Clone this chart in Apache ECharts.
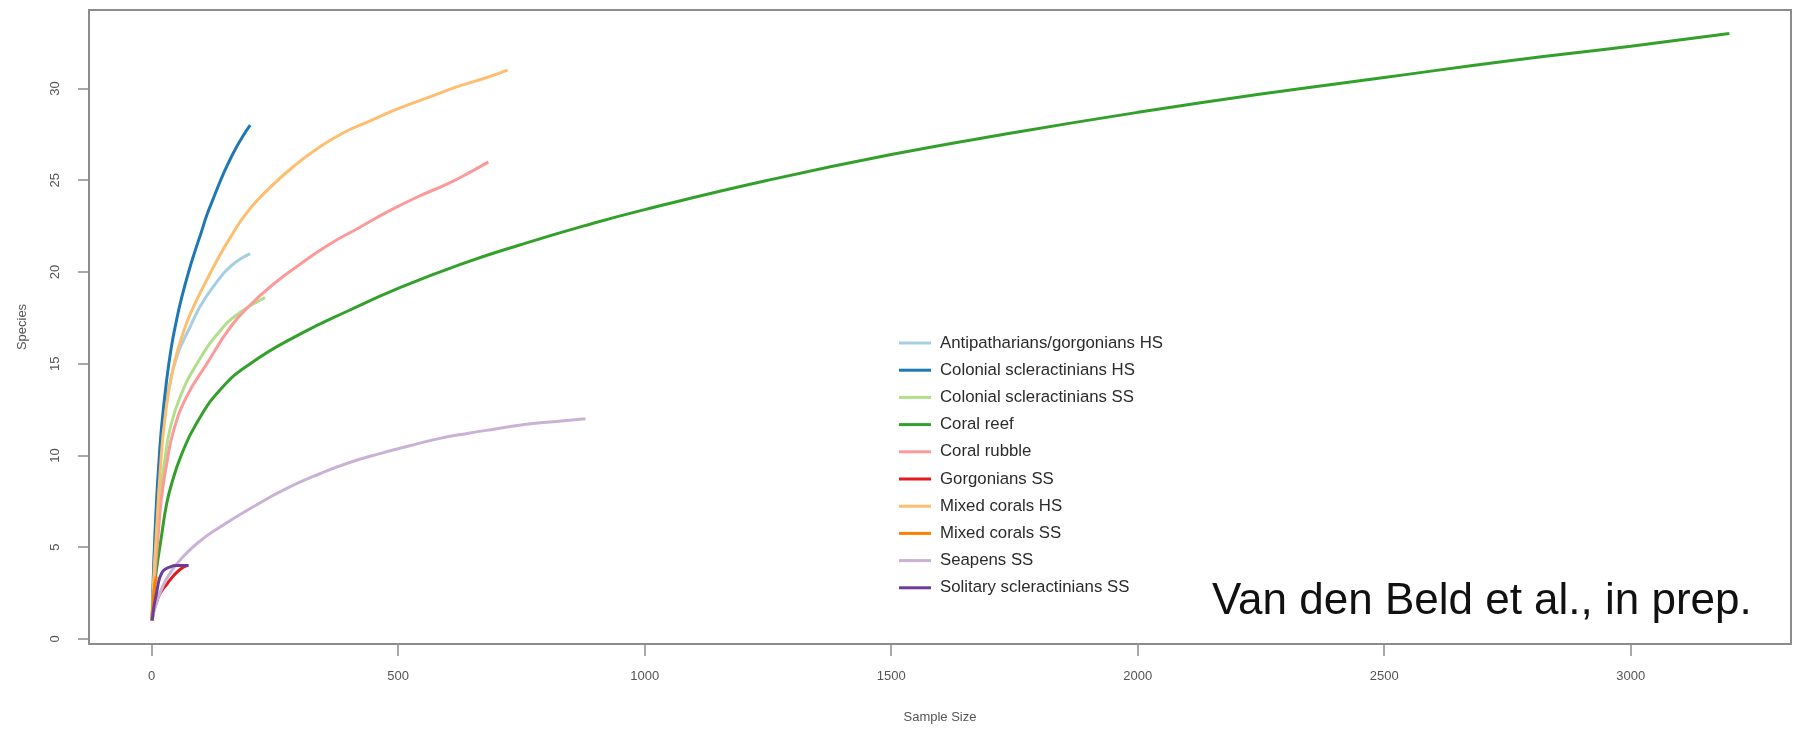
<!DOCTYPE html>
<html>
<head>
<meta charset="utf-8">
<title>Species accumulation curves</title>
<script src="https://cdn.jsdelivr.net/npm/echarts@6/dist/echarts.min.js"></script>
<style>
  html, body { margin: 0; padding: 0; background: #ffffff; }
  #chart { width: 1797px; height: 735px; }
</style>
</head>
<body>
<div id="chart"></div>
<script>
// Species accumulation (rarefaction) curves per habitat: [sample size, species]
const antipathariansHS = [[1,1],[3,2.9],[5,4.4],[10,7.2],[15,9.2],[20,10.8],[30,12.9],[40,14.3],[50,15.3],[60,16.0],[78,17.0],[98,18.1],[125,19.2],[160,20.3],[200,21.0]];
const colonialHS = [[1,1],[3,2.9],[5,4.5],[10,7.5],[15,9.7],[20,11.5],[30,14.0],[40,15.9],[50,17.3],[60,18.5],[75,20.0],[90,21.3],[100,22.1],[112,23.1],[125,24.0],[140,25.0],[155,25.9],[170,26.7],[185,27.4],[200,28.0]];
const colonialSS = [[1,1],[5,3.2],[10,5.4],[15,7.4],[27,9.8],[37,11.4],[58,13.2],[92,15.0],[139,16.8],[180,17.8],[230,18.6]];
const coralReef = [[1,1],[5,2.6],[10,3.8],[20,5.6],[30,7.3],[40,8.4],[60,10.0],[90,11.7],[140,13.6],[200,15.0],[300,16.6],[400,17.9],[500,19.1],[625,20.4],[750,21.5],[875,22.5],[1000,23.4],[1250,25.0],[1500,26.4],[1750,27.6],[2000,28.7],[2250,29.7],[2500,30.6],[2750,31.5],[3000,32.3],[3200,33.0]];
const coralRubble = [[1,1],[5,2.9],[10,4.6],[14,5.9],[20,7.7],[31,9.6],[44,11.3],[71,13.2],[112,15.0],[160,17.0],[200,18.2],[250,19.4],[300,20.4],[360,21.5],[420,22.4],[480,23.3],[540,24.1],[600,24.8],[650,25.5],[683,26.0]];
const gorgoniansSS = [[1,1],[5,1.6],[10,2.0],[14,2.3],[20,2.6],[30,2.95],[37,3.2],[50,3.6],[64,3.9],[72,4.0]];
const mixedHS = [[1,1],[5,3.6],[10,5.9],[17,9.0],[27,12.0],[44,14.8],[68,17.0],[85,18.1],[105,19.2],[132,20.6],[160,21.9],[195,23.3],[240,24.6],[290,25.8],[340,26.8],[390,27.6],[440,28.2],[500,28.9],[560,29.5],[620,30.1],[680,30.6],[722,31.0]];
const mixedSS = [[1,1],[2,1.7],[4,2.4],[6,2.9],[8,3.2],[10,3.4]];
const seapensSS = [[1,1],[10,2.0],[25,3.0],[40,3.7],[58,4.3],[92,5.2],[139,6.1],[206,7.2],[274,8.2],[341,9.0],[400,9.6],[463,10.1],[520,10.5],[580,10.9],[640,11.2],[700,11.45],[760,11.7],[820,11.85],[880,12.0]];
const solitarySS = [[1,1],[5,1.8],[10,2.5],[15,3.2],[20,3.55],[25,3.75],[35,3.9],[50,4.0],[75,4.0]];

const seriesNames = [
  'Antipatharians/gorgonians HS',
  'Colonial scleractinians HS',
  'Colonial scleractinians SS',
  'Coral reef',
  'Coral rubble',
  'Gorgonians SS',
  'Mixed corals HS',
  'Mixed corals SS',
  'Seapens SS',
  'Solitary scleractinians SS'
];
const seriesData = [antipathariansHS, colonialHS, colonialSS, coralReef, coralRubble,
                    gorgoniansSS, mixedHS, mixedSS, seapensSS, solitarySS];
const seriesColors = ['#a6cee3', '#1f78b4', '#b2df8a', '#33a02c', '#fb9a99',
                      '#e31a1c', '#fdbf6f', '#ff7f00', '#cab2d6', '#6a3d9a'];

const xTicks = [0, 500, 1000, 1500, 2000, 2500, 3000];
const yTicks = [0, 5, 10, 15, 20, 25, 30];

const chart = echarts.init(document.getElementById('chart'), null, { renderer: 'canvas' });

const axisText = { color: '#555555', fontSize: 13, fontFamily: 'Liberation Sans, Arial, sans-serif' };
const tickLine = { color: '#8c8c8c', width: 1.5 };

chart.setOption({
  animation: false,
  backgroundColor: '#ffffff',
  color: seriesColors,
  grid: {
    left: 89, right: 6, top: 10, bottom: 91,
    show: true,
    borderColor: '#8c8c8c',
    borderWidth: 2,
    backgroundColor: 'transparent'
  },
  xAxis: {
    type: 'value',
    min: -127,
    max: 3325,
    name: 'Sample Size',
    nameLocation: 'middle',
    nameGap: 67,
    nameTextStyle: axisText,
    splitLine: { show: false },
    axisLine: { show: false, onZero: false },
    axisTick: { show: true, length: 12, customValues: xTicks, lineStyle: tickLine },
    axisLabel: { customValues: xTicks, margin: 26, formatter: v => String(v), ...axisText }
  },
  yAxis: {
    type: 'value',
    min: -0.28,
    max: 34.28,
    name: 'Species',
    nameLocation: 'middle',
    nameGap: 60,
    nameTextStyle: axisText,
    splitLine: { show: false },
    axisLine: { show: false, onZero: false },
    axisTick: { show: true, length: 11, customValues: yTicks, lineStyle: tickLine },
    axisLabel: { customValues: yTicks, rotate: 90, margin: 27, formatter: v => String(v), ...axisText }
  },
  legend: {
    orient: 'vertical',
    left: 894,
    top: 329,
    icon: 'rect',
    itemWidth: 32,
    itemHeight: 3,
    itemGap: 9.2,
    selectedMode: false,
    textStyle: {
      color: '#2b2b2b',
      fontSize: 16.8,
      lineHeight: 18,
      fontFamily: 'Liberation Sans, Arial, sans-serif',
      padding: [0, 0, 0, 4]
    },
    data: seriesNames
  },
  graphic: [{
    type: 'text',
    left: 1212,
    top: 580,
    style: {
      text: 'Van den Beld et al., in prep.',
      fill: '#111111',
      font: '44px "Liberation Sans", Arial, sans-serif'
    }
  }],
  series: seriesNames.map((name, i) => ({
    name: name,
    type: 'line',
    data: seriesData[i],
    symbol: 'none',
    showSymbol: false,
    smooth: 0.5,
    lineStyle: { width: 3, color: seriesColors[i] },
    itemStyle: { color: seriesColors[i] },
    emphasis: { disabled: true }
  }))
});
</script>
</body>
</html>
